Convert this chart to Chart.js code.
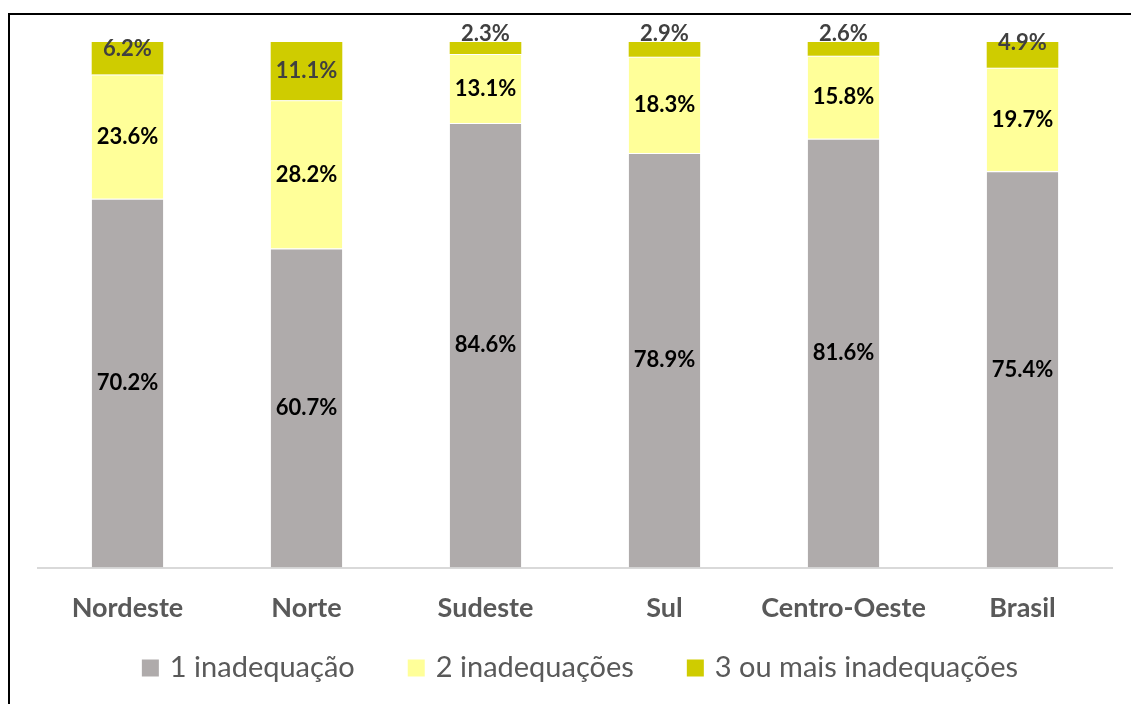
<!DOCTYPE html>
<html>
<head>
<meta charset="utf-8">
<script src="https://cdn.jsdelivr.net/npm/chart.js@4.4.0/dist/chart.umd.min.js"></script>
<style>
  html, body { margin: 0; padding: 0; background: #ffffff; }
  #wrap { position: relative; width: 1131px; height: 704px; overflow: hidden; }
  canvas { display: block; }
</style>
</head>
<body>
<div id="wrap"><canvas id="c" width="1131" height="704"></canvas></div>
<script>
const categories = ['Nordeste', 'Norte', 'Sudeste', 'Sul', 'Centro-Oeste', 'Brasil'];
const seriesNames = ['1 inadequação', '2 inadequações', '3 ou mais inadequações'];
const umInadequacao = [70.2, 60.7, 84.6, 78.9, 81.6, 75.4];
const duasInadequacoes = [23.6, 28.2, 13.1, 18.3, 15.8, 19.7];
const tresOuMais = [6.2, 11.1, 2.3, 2.9, 2.6, 4.9];

const FONT = 'Lato, "Liberation Sans", sans-serif';

const frame = {
  id: 'frame',
  afterDraw(chart) {
    const ctx = chart.ctx;
    ctx.save();
    ctx.strokeStyle = '#000000';
    ctx.lineWidth = 2;
    ctx.strokeRect(9, 14, 1400, 900);
    ctx.restore();
  }
};

const labelsPlugin = {
  id: 'segLabels',
  afterDatasetsDraw(chart) {
    const ctx = chart.ctx;
    ctx.save();
    ctx.font = 'bold 22px ' + FONT;
    ctx.textAlign = 'center';
    ctx.textBaseline = 'middle';
    chart.data.datasets.forEach((ds, di) => {
      const meta = chart.getDatasetMeta(di);
      meta.data.forEach((bar, i) => {
        const top = Math.min(bar.y, bar.base);
        const h = Math.abs(bar.base - bar.y);
        let y = top + h / 2;
        if (di === 2 && h < 40) y = Math.max(top + 0.9 * h - 22, top - 8);
        ctx.fillStyle = di === 2 ? '#404040' : '#000000';
        ctx.fillText(ds.data[i].toFixed(1) + '%', bar.x, y);
      });
    });
    ctx.restore();
  }
};

const legendPlugin = {
  id: 'customLegend',
  afterDraw(chart) {
    const ctx = chart.ctx;
    const box = 17, gapBox = 11, gapItem = 53;
    ctx.save();
    ctx.font = '29px ' + FONT;
    ctx.textBaseline = 'middle';
    ctx.textAlign = 'left';
    const items = chart.data.datasets.map(ds => ({
      text: ds.label, color: ds.backgroundColor, w: ctx.measureText(ds.label).width
    }));
    let total = 0;
    items.forEach((it, i) => { total += box + gapBox + it.w + (i ? gapItem : 0); });
    const cx = (chart.chartArea.left + chart.chartArea.right) / 2 + 5;
    let x = cx - total / 2;
    const y = 668;
    items.forEach(it => {
      ctx.fillStyle = it.color;
      ctx.fillRect(x, y - box / 2, box, box);
      ctx.fillStyle = '#595959';
      ctx.fillText(it.text, x + box + gapBox, y);
      x += box + gapBox + it.w + gapItem;
    });
    ctx.restore();
  }
};

new Chart(document.getElementById('c'), {
  type: 'bar',
  data: {
    labels: categories,
    datasets: [
      { label: seriesNames[0], data: umInadequacao, backgroundColor: '#AFABAB', borderColor: '#ffffff', borderWidth: {top: 1, bottom: 0, left: 0, right: 0}, borderSkipped: false },
      { label: seriesNames[1], data: duasInadequacoes, backgroundColor: '#FFFF99', borderColor: '#ffffff', borderWidth: {top: 1, bottom: 0, left: 0, right: 0}, borderSkipped: false },
      { label: seriesNames[2], data: tresOuMais, backgroundColor: '#CFCC00', borderColor: '#ffffff', borderWidth: 0 }
    ]
  },
  options: {
    responsive: false,
    animation: false,
    layout: { padding: { top: 42, left: 38, right: 19, bottom: 56 } },
    datasets: { bar: { categoryPercentage: 0.4, barPercentage: 1.0 } },
    scales: {
      x: {
        stacked: true,
        grid: { display: false, drawTicks: false },
        border: { display: true, color: '#D9D9D9', width: 2 },
        ticks: { color: '#595959', font: { family: FONT, size: 27, weight: 'bold', lineHeight: 1.2 }, padding: 24 }
      },
      y: {
        stacked: true,
        display: false,
        min: 0,
        max: 100
      }
    },
    plugins: {
      legend: { display: false },
      tooltip: { enabled: false }
    }
  },
  plugins: [labelsPlugin, legendPlugin, frame]
});
</script>
</body>
</html>
